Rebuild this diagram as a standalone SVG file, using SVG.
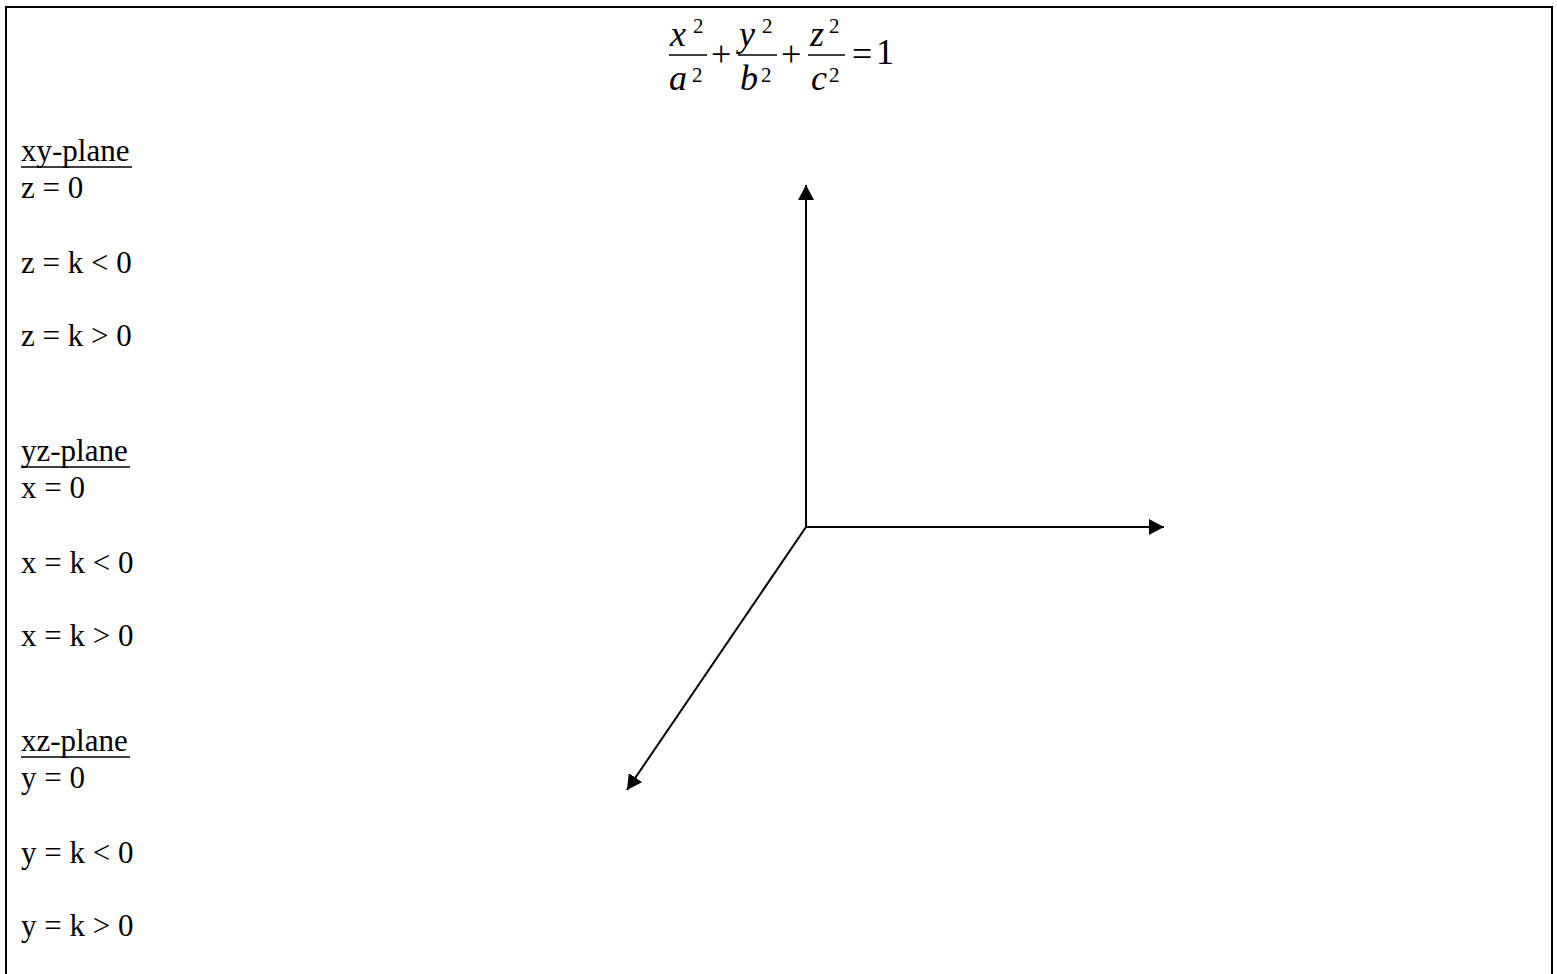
<svg xmlns="http://www.w3.org/2000/svg" width="1557" height="974" viewBox="0 0 1557 974">
<style>
.t{font-family:"Liberation Serif","Times New Roman",serif;font-size:31px;fill:#000}
.m{font-family:"Liberation Serif","Times New Roman",serif;font-size:36px;fill:#000;font-style:italic}
.n{font-family:"Liberation Serif","Times New Roman",serif;font-size:36px;fill:#000}
.s{font-family:"Liberation Serif","Times New Roman",serif;font-size:21px;fill:#000}
.ln{stroke:#000;stroke-width:2;fill:none}
.ul{stroke:#000;stroke-width:1.5}
</style>
<defs>
<marker id="ah" markerUnits="userSpaceOnUse" markerWidth="16" markerHeight="16" refX="15" refY="8" orient="auto" viewBox="0 0 16 16">
<path d="M0,0 L15,8 L0,16 z" fill="#000"/>
</marker>
</defs>
<rect width="1557" height="974" fill="#fff"/>
<g id="frame">
<path class="ln" d="M6,974 V7 H1552 V974"/>
</g>
<g id="formula">
<text class="m" x="670" y="46">x</text>
<text class="s" x="693" y="33">2</text>
<line x1="669" y1="55" x2="707" y2="55" stroke="#000" stroke-width="1.5"/>
<text class="m" x="669" y="90">a</text>
<text class="s" x="692" y="82">2</text>
<text class="n" x="711" y="66">+</text>
<text class="m" x="739" y="46">y</text>
<text class="s" x="762" y="33">2</text>
<line x1="738" y1="55" x2="777" y2="55" stroke="#000" stroke-width="1.5"/>
<text class="m" x="740" y="90">b</text>
<text class="s" x="761" y="82">2</text>
<text class="n" x="781" y="66">+</text>
<text class="m" x="810" y="46">z</text>
<text class="s" x="829" y="33">2</text>
<line x1="808" y1="55" x2="845" y2="55" stroke="#000" stroke-width="1.5"/>
<text class="m" x="811" y="90">c</text>
<text class="s" x="829" y="82">2</text>
<text class="n" x="852" y="66">=</text>
<text class="n" x="876" y="64">1</text>
</g>
<g id="xy-labels">
<text class="t" x="21" y="161">xy-plane</text>
<line class="ul" x1="21" y1="167" x2="132" y2="167"/>
<text class="t" x="21" y="198">z = 0</text>
<text class="t" x="21" y="273">z = k &lt; 0</text>
<text class="t" x="21" y="346">z = k &gt; 0</text>
</g>
<g id="yz-labels">
<text class="t" x="21" y="461">yz-plane</text>
<line class="ul" x1="21" y1="467" x2="130" y2="467"/>
<text class="t" x="21" y="498">x = 0</text>
<text class="t" x="21" y="573">x = k &lt; 0</text>
<text class="t" x="21" y="646">x = k &gt; 0</text>
</g>
<g id="xz-labels">
<text class="t" x="21" y="751">xz-plane</text>
<line class="ul" x1="21" y1="757" x2="130" y2="757"/>
<text class="t" x="21" y="788">y = 0</text>
<text class="t" x="21" y="863">y = k &lt; 0</text>
<text class="t" x="21" y="936">y = k &gt; 0</text>
</g>
<g id="axes">
<line class="ln" x1="806" y1="527" x2="806" y2="185" marker-end="url(#ah)"/>
<line class="ln" x1="806" y1="527" x2="1164" y2="527" marker-end="url(#ah)"/>
<line class="ln" x1="806" y1="527" x2="627" y2="790" marker-end="url(#ah)"/>
</g>
</svg>
